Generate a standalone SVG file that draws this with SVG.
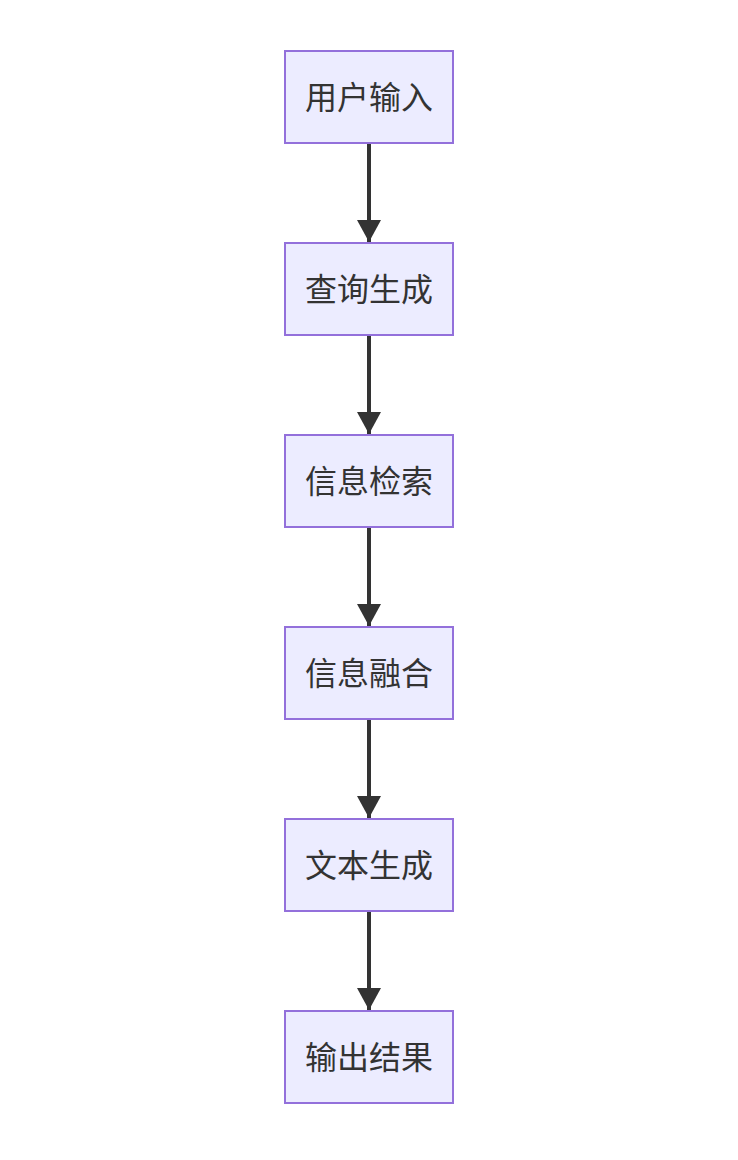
<svg xmlns="http://www.w3.org/2000/svg" width="738" height="1160" viewBox="0 0 738 1160">
<defs>
<style>
.node rect{fill:#ECECFF;stroke:#9370DB;stroke-width:2}
.node text{font-family:"Noto Sans CJK SC","Noto Sans",sans-serif;font-size:32px;fill:#333;text-anchor:middle;dominant-baseline:central}
.edge{stroke:#333;stroke-width:4;fill:none}
</style>
<marker id="arrow" markerUnits="userSpaceOnUse" markerWidth="24" markerHeight="24" refX="22" refY="12" orient="auto" viewBox="0 0 24 24">
<path d="M0,0 L22,12 L0,24 Z" fill="#333"/>
</marker>
</defs>
<rect width="738" height="1160" fill="#fff"/>
<g id="connectors">
<line class="edge" x1="369" y1="143" x2="369" y2="242" marker-end="url(#arrow)"/>
<line class="edge" x1="369" y1="335" x2="369" y2="434" marker-end="url(#arrow)"/>
<line class="edge" x1="369" y1="527" x2="369" y2="626" marker-end="url(#arrow)"/>
<line class="edge" x1="369" y1="719" x2="369" y2="818" marker-end="url(#arrow)"/>
<line class="edge" x1="369" y1="911" x2="369" y2="1010" marker-end="url(#arrow)"/>
</g>
<g id="n1" class="node"><rect x="285" y="51" width="168" height="92"/><text x="369" y="95">用户输入</text></g>
<g id="n2" class="node"><rect x="285" y="243" width="168" height="92"/><text x="369" y="287">查询生成</text></g>
<g id="n3" class="node"><rect x="285" y="435" width="168" height="92"/><text x="369" y="479">信息检索</text></g>
<g id="n4" class="node"><rect x="285" y="627" width="168" height="92"/><text x="369" y="671">信息融合</text></g>
<g id="n5" class="node"><rect x="285" y="819" width="168" height="92"/><text x="369" y="863">文本生成</text></g>
<g id="n6" class="node"><rect x="285" y="1011" width="168" height="92"/><text x="369" y="1055">输出结果</text></g>
</svg>
